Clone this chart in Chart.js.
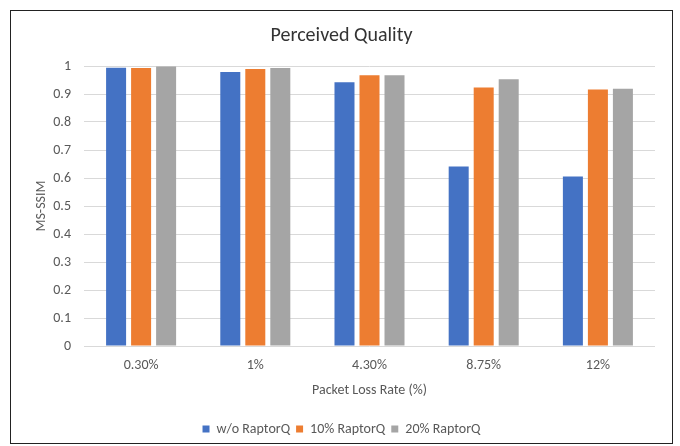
<!DOCTYPE html>
<html>
<head>
<meta charset="utf-8">
<script src="https://cdn.jsdelivr.net/npm/chart.js@4/dist/chart.umd.min.js"></script>
<style>
  html, body { margin: 0; padding: 0; background: #fff; }
  #wrap { width: 680px; height: 446px; position: relative; }
</style>
</head>
<body>
<div id="wrap"><canvas id="c" width="680" height="446"></canvas></div>
<script>
const categories = ["0.30%", "1%", "4.30%", "8.75%", "12%"];
const seriesNames = ["w/o RaptorQ", "10% RaptorQ", "20% RaptorQ"];
const woRaptorQ = [0.994, 0.979, 0.942, 0.641, 0.605];
const raptorQ10 = [0.993, 0.989, 0.967, 0.923, 0.916];
const raptorQ20 = [0.998, 0.993, 0.967, 0.953, 0.919];
const yTickLabels = ["0", "0.1", "0.2", "0.3", "0.4", "0.5", "0.6", "0.7", "0.8", "0.9", "1"];
const colors = ["#4472C4", "#ED7D31", "#A5A5A5"];
const FONT = "Carlito, Lato, 'Liberation Sans', sans-serif";

const framePlugin = {
  id: 'frame',
  afterDraw(chart) {
    const ctx = chart.ctx;
    ctx.save();
    ctx.strokeStyle = '#222';
    ctx.lineWidth = 1;
    ctx.strokeRect(10.5, 10.5, 662, 433);
    ctx.restore();
  }
};

new Chart(document.getElementById('c'), {
  type: 'bar',
  data: {
    labels: categories,
    datasets: [woRaptorQ, raptorQ10, raptorQ20].map((d, i) => ({
      label: seriesNames[i],
      data: d,
      backgroundColor: colors[i],
      borderWidth: 0,
      barPercentage: 0.8,
      categoryPercentage: 0.657
    }))
  },
  options: {
    responsive: false,
    animation: false,
    devicePixelRatio: 1,
    layout: { padding: { left: 28, right: 25, top: 10, bottom: 0 } },
    plugins: {
      title: {
        display: true,
        text: 'Perceived Quality',
        color: '#333',
        font: { family: FONT, size: 20, weight: 'normal' },
        padding: { top: 14, bottom: 18 }
      },
      legend: {
        position: 'bottom',
        labels: {
          color: '#595959',
          font: { family: FONT, size: 14 },
          boxWidth: 7,
          boxHeight: 7,
          padding: 6
        }
      },
      tooltip: { enabled: false }
    },
    scales: {
      x: {
        afterFit(s) { s.height = 70; },
        grid: { display: false },
        border: { display: false },
        ticks: { color: '#595959', font: { family: FONT, size: 14 }, padding: 3 },
        title: {
          display: true,
          text: 'Packet Loss Rate (%)',
          color: '#595959',
          font: { family: FONT, size: 14 },
          padding: { top: 0, bottom: 17 }
        }
      },
      y: {
        min: 0,
        max: 1,
        afterFit(s) { s.width = 56; },
        grid: { color: '#D9D9D9', drawTicks: false, lineWidth: 1 },
        border: { display: false },
        ticks: {
          stepSize: 0.1,
          color: '#595959',
          font: { family: FONT, size: 14 },
          padding: 13,
          callback: (v, i) => yTickLabels[i]
        },
        title: {
          display: true,
          text: 'MS-SSIM',
          color: '#595959',
          font: { family: FONT, size: 14 },
          padding: 5
        }
      }
    }
  },
  plugins: [framePlugin]
});
</script>
</body>
</html>
